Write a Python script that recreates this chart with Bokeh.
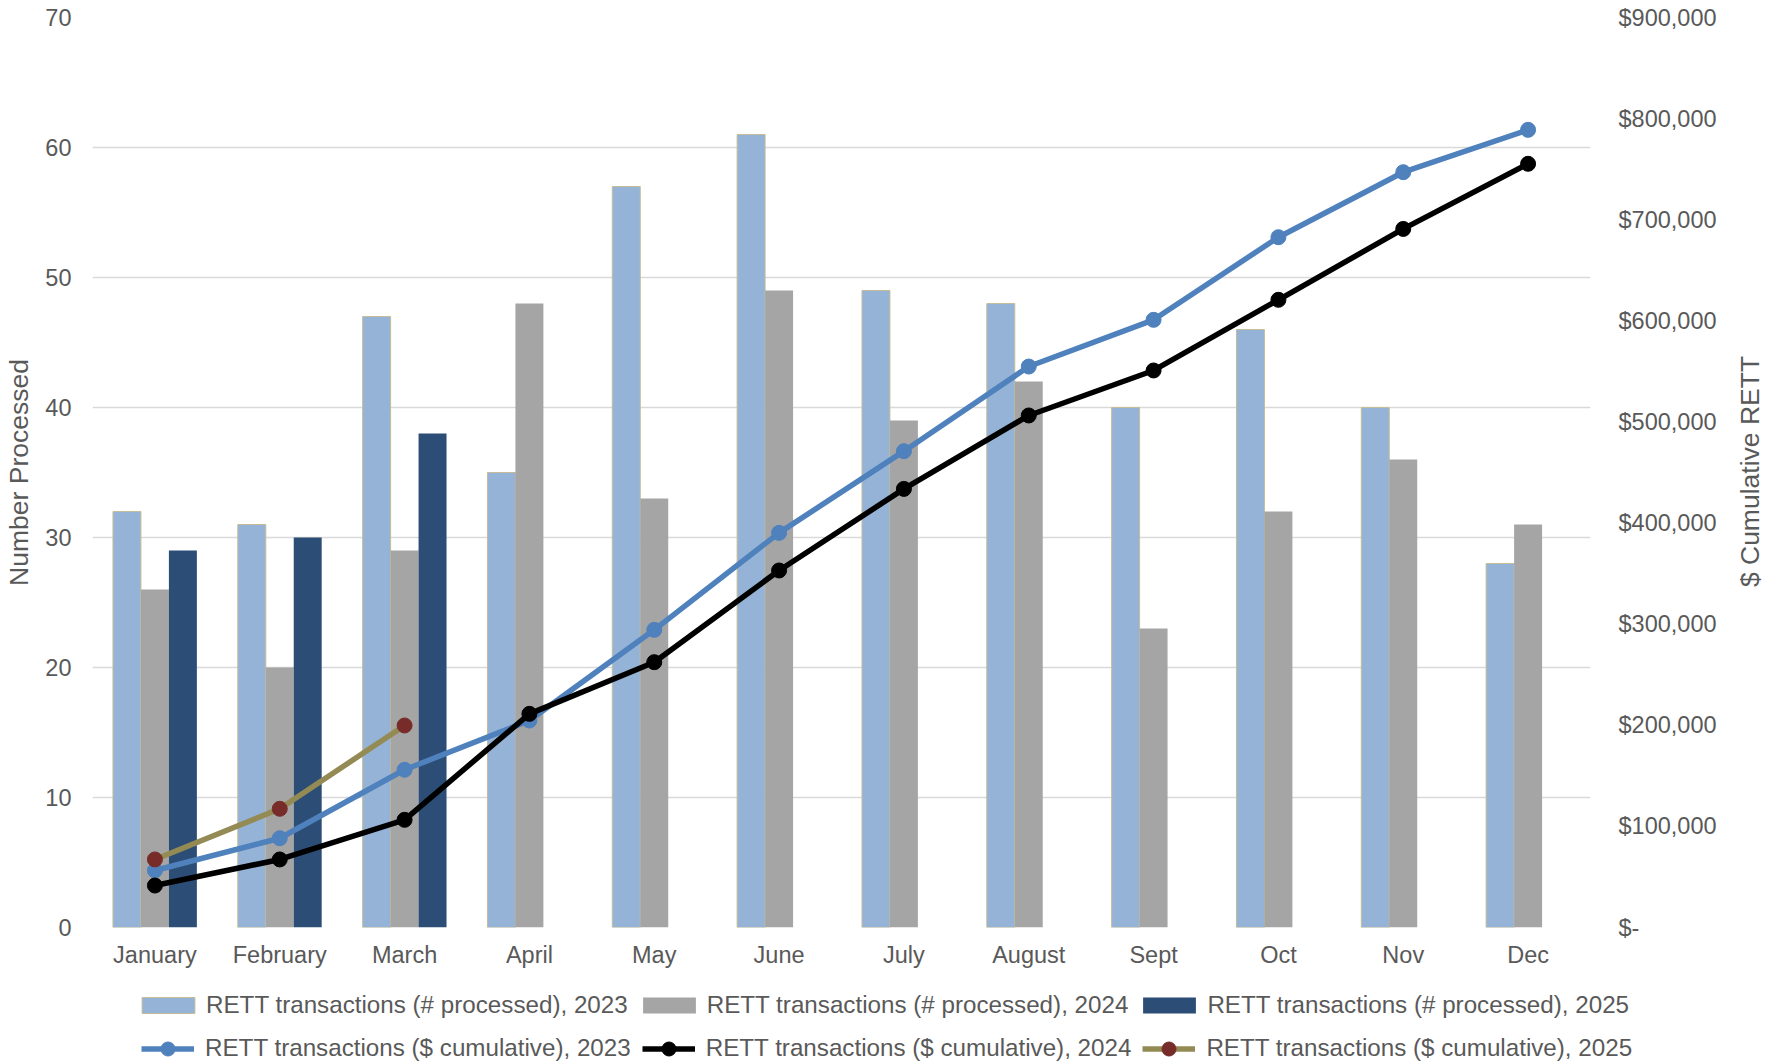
import math
from bokeh.plotting import figure
from bokeh.layouts import column, row
from bokeh.models import (Range1d, LinearAxis, FixedTicker, Legend, LegendItem,
                          FactorRange, ColumnDataSource, Label)
from bokeh.transform import dodge
from bokeh.embed import file_html
from bokeh.resources import INLINE

months = ["January", "February", "March", "April", "May", "June", "July",
          "August", "Sept", "Oct", "Nov", "Dec"]
n_2023 = [32, 31, 47, 35, 57, 61, 49, 48, 40, 46, 40, 28]
n_2024 = [26, 20, 29, 48, 33, 49, 39, 42, 23, 32, 36, 31]
months_2025 = ["January", "February", "March"]
n_2025 = [29, 30, 38]
usd_2023 = [56400, 88300, 156000, 204700, 294400, 390300, 471100, 554800,
            601000, 682700, 747000, 788900]
usd_2024 = [41500, 67300, 106500, 211300, 262400, 353100, 433800, 506400,
            550900, 620800, 690900, 755300]
usd_2025 = [67300, 117400, 199800]
left_ticks = [0, 10, 20, 30, 40, 50, 60, 70]
usd_ticks = [0, 100000, 200000, 300000, 400000, 500000, 600000, 700000, 800000, 900000]
usd_tick_labels = ["$-", "$100,000", "$200,000", "$300,000", "$400,000", "$500,000",
                   "$600,000", "$700,000", "$800,000", "$900,000"]
labels_bar = ["RETT transactions (# processed), 2023",
              "RETT transactions (# processed), 2024",
              "RETT transactions (# processed), 2025"]
labels_line = ["RETT transactions ($ cumulative), 2023",
               "RETT transactions ($ cumulative), 2024",
               "RETT transactions ($ cumulative), 2025"]
left_title = "Number Processed"
right_title = "$ Cumulative RETT"

FONT = "Liberation Sans"
TXT = "#595959"
C23, C24, C25 = "#95b3d7", "#a5a5a5", "#2c4d75"
EDGE23 = "#c4bd97"
L23, L24, L25, M25 = "#4f81bd", "#000000", "#948a54", "#772c2a"
W = 1775
MAIN_H = 972
LEG_H = 1062 - MAIN_H
TW = 55

p = figure(x_range=FactorRange(factors=months), y_range=Range1d(0, 70),
           width=W - TW, height=MAIN_H, min_border_left=92,
           min_border_right=130, min_border_top=17, min_border_bottom=45,
           output_backend="svg", toolbar_location=None, background_fill_color="white")
p.outline_line_color = None
p.xgrid.grid_line_color = None
p.ygrid.grid_line_color = "#d9d9d9"
p.ygrid.grid_line_width = 1.3
p.extra_y_ranges = {"usd": Range1d(0, 900000)}

src = ColumnDataSource(dict(m=months, a=n_2023, b=n_2024))
src25 = ColumnDataSource(dict(m=months_2025, c=n_2025))
bw = 0.224
p.vbar(x=dodge("m", -bw, range=p.x_range), top="a", width=bw, source=src,
       fill_color=C23, line_color=EDGE23, line_width=1)
p.vbar(x=dodge("m", 0, range=p.x_range), top="b", width=bw, source=src,
       fill_color=C24, line_color=None)
p.vbar(x=dodge("m", bw, range=p.x_range), top="c", width=bw, source=src25,
       fill_color=C25, line_color=None)

LW = 5.5
MS = 15
lsrc = ColumnDataSource(dict(m=months, u23=usd_2023, u24=usd_2024))
lsrc25 = ColumnDataSource(dict(m=months_2025, u25=usd_2025))
p.line("m", "u23", source=lsrc, y_range_name="usd", line_color=L23, line_width=LW)
p.scatter("m", "u23", source=lsrc, y_range_name="usd", size=MS, fill_color=L23, line_color=L23)
p.line("m", "u24", source=lsrc, y_range_name="usd", line_color=L24, line_width=LW)
p.scatter("m", "u24", source=lsrc, y_range_name="usd", size=MS, fill_color=L24, line_color=L24)
p.line("m", "u25", source=lsrc25, y_range_name="usd", line_color=L25, line_width=LW)
p.scatter("m", "u25", source=lsrc25, y_range_name="usd", size=MS, fill_color=M25, line_color=M25)

def style_axis(ax):
    ax.axis_line_color = None
    ax.major_tick_line_color = None
    ax.minor_tick_line_color = None
    ax.major_tick_in = 0
    ax.major_tick_out = 0
    ax.major_label_text_font = FONT
    ax.major_label_text_font_size = "23.5px"
    ax.major_label_text_color = TXT
    ax.axis_label_text_font = FONT
    ax.axis_label_text_font_size = "26.5px"
    ax.axis_label_text_font_style = "normal"
    ax.axis_label_text_color = TXT

yl = p.yaxis[0]
yl.ticker = FixedTicker(ticks=left_ticks)
yl.axis_label = left_title
yl.major_label_standoff = 21
yl.axis_label_standoff = 8
style_axis(yl)

yr = LinearAxis(y_range_name="usd", ticker=FixedTicker(ticks=usd_ticks),
                major_label_overrides=dict(zip(usd_ticks, usd_tick_labels)))
yr.major_label_standoff = 28
style_axis(yr)
p.add_layout(yr, "right")

xb = p.xaxis[0]
xb.major_label_standoff = 14
style_axis(xb)

# right title strip
t = figure(width=TW, height=MAIN_H, x_range=Range1d(0, 1), y_range=Range1d(0, 1),
           x_axis_type=None, y_axis_type=None, min_border=0,
           output_backend="svg", toolbar_location=None)
t.outline_line_color = None
t.xgrid.grid_line_color = None
t.ygrid.grid_line_color = None
t.add_layout(Label(x=29, y=MAIN_H - 471, x_units="screen", y_units="screen",
                   text=right_title, angle=math.pi / 2, text_align="center",
                   text_baseline="middle", text_font=FONT, text_font_size="26.5px",
                   text_color=TXT))

# legend strip (second figure, same styles, off-view glyphs)
q = figure(width=W, height=LEG_H, x_range=Range1d(0, 1), y_range=Range1d(0, 1),
           x_axis_type=None, y_axis_type=None, min_border=0,
           output_backend="svg", toolbar_location=None)
q.outline_line_color = None
q.xgrid.grid_line_color = None
q.ygrid.grid_line_color = None
for fig in (p, q, t):
    if "frame_align" in fig.properties():
        fig.frame_align = False
b1 = q.vbar(x=[-5], top=[-5], width=0.1, fill_color=C23, line_color=EDGE23, line_width=1)
b2 = q.vbar(x=[-5], top=[-5], width=0.1, fill_color=C24, line_color=None)
b3 = q.vbar(x=[-5], top=[-5], width=0.1, fill_color=C25, line_color=None)
g1 = [q.line(x=[-5, -4], y=[-5, -5], line_color=L23, line_width=LW),
      q.scatter(x=[-5], y=[-5], size=MS, fill_color=L23, line_color=L23)]
g2 = [q.line(x=[-5, -4], y=[-5, -5], line_color=L24, line_width=LW),
      q.scatter(x=[-5], y=[-5], size=MS, fill_color=L24, line_color=L24)]
g3 = [q.line(x=[-5, -4], y=[-5, -5], line_color=L25, line_width=LW),
      q.scatter(x=[-5], y=[-5], size=MS, fill_color=M25, line_color=M25)]

def make_legend(items, loc, gw, gh, standoff, spacing):
    return Legend(items=items, orientation="horizontal", location=loc,
                  padding=0, margin=0, spacing=spacing, label_standoff=standoff,
                  glyph_width=gw, glyph_height=gh, label_height=20,
                  border_line_color=None, background_fill_alpha=0,
                  label_text_font=FONT, label_text_font_size="24.2px",
                  label_text_color=TXT)

row1_center = 1005 - MAIN_H
row2_center = 1048 - MAIN_H
leg1 = make_legend([LegendItem(label=labels_bar[0], renderers=[b1]),
                    LegendItem(label=labels_bar[1], renderers=[b2]),
                    LegendItem(label=labels_bar[2], renderers=[b3])],
                   (135, LEG_H - row1_center - 14), 66, 20, 5, 8)
leg2 = make_legend([LegendItem(label=labels_line[0], renderers=g1),
                    LegendItem(label=labels_line[1], renderers=g2),
                    LegendItem(label=labels_line[2], renderers=g3)],
                   (141, LEG_H - row2_center - 17.5), 53, 35, 11, 11)
q.add_layout(leg1, "center")
q.add_layout(leg2, "center")

layout = column(row(p, t, spacing=0), q, spacing=0)
open("out.html", "w").write(file_html(layout, INLINE))
